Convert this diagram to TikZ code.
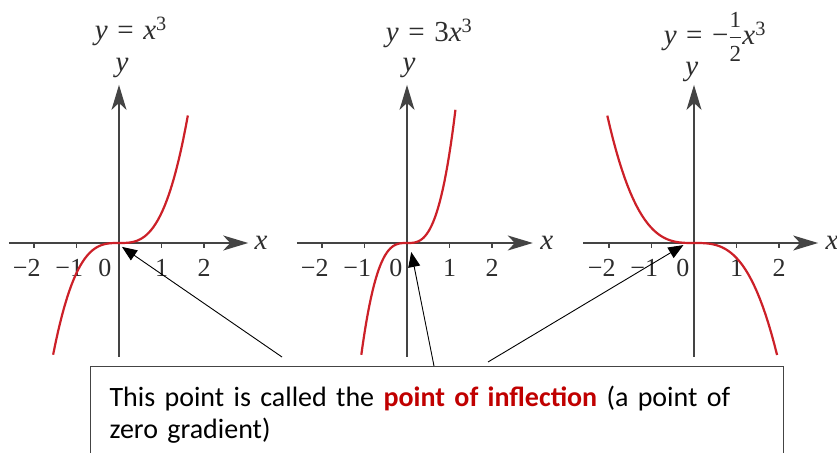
\documentclass[tikz,border=0pt]{standalone}
\usepackage{amsmath}
\usepackage{fontspec}
\setmainfont{Carlito}
\newfontfamily\graphfont{Liberation Serif}
\usetikzlibrary{arrows.meta, positioning}

\definecolor{curvered}{RGB}{204,32,40}
\definecolor{axisgray}{RGB}{68,68,68}
\definecolor{labelgray}{RGB}{45,45,45}
\definecolor{notered}{RGB}{192,0,0}

\newcommand{\halfnum}[1]{\hbox{\fontsize{23}{23}\selectfont #1}}
\newcommand{\eqsp}{\hspace{0.33em}=\hspace{0.33em}}

\tikzset{
	axis/.style={draw=axisgray, line width=1.5pt, -{Stealth[length=25pt, width=15pt, inset=7pt]}},
	tick/.style={draw=axisgray, line width=1.2pt},
	curve/.style={draw=curvered, line width=2.2pt},
	ticklabel/.style={text=labelgray, inner sep=0pt, anchor=base, font=\graphfont\fontsize{26}{26}\selectfont},
	varlabel/.style={text=labelgray, inner sep=0pt, anchor=base, font=\graphfont\itshape\fontsize{29}{29}\selectfont},
	title/.style={text=labelgray, inner sep=0pt, anchor=base, font=\graphfont\fontsize{29}{29}\selectfont},
	pointer/.style={draw=black, line width=0.9pt, -{Triangle[length=15pt, width=12pt]}},
	notebox/.style={draw=axisgray, line width=1.2pt, anchor=north west, align=left, text width=655pt, inner xsep=19pt, inner ysep=19.5pt, font=\fontsize{28}{32}\selectfont}
}

\begin{document}
\begin{tikzpicture}[x=1pt, y=1pt]
	\useasboundingbox (0,0) rectangle (837,452);
	\clip (0,0) rectangle (837,452);
	
	% y = x^3
	\begin{scope}[shift={(119,209)}, x=42.5pt, y=30pt]
		\draw[axis] (-2.59,0) -- (3.04,0);
		\draw[axis] (0,-3.8) -- (0,5.27);
		\node[varlabel] (x1) at (3.34,-0.23) {x};
		\node[varlabel] (y1) at (0.07,5.73) {y};
		\node[title] (t1) at (0.28,6.77) {\textit{y}\eqsp\textit{x}\textsuperscript{3}};
		
		% Ticks and labels
		\draw[tick] (-2,0) -- (-2,-0.17) (-1,0) -- (-1,-0.17) (1,0) -- (1,-0.17) (2,0) -- (2,-0.17);
		\node[ticklabel] (a-m2) at (-2,-1.13) {\llap{−}2};
		\node[ticklabel] (a-m1) at (-1,-1.13) {\llap{−}1};
		\node[ticklabel] (a-0) at (-0.33,-1.13) {0};
		\node[ticklabel] (a-1) at (1,-1.13) {1};
		\node[ticklabel] (a-2) at (2,-1.13) {2};
		
		% Draw the function
		\draw[curve] plot[domain=-1.55:1.62, samples=60] (\x, {(\x)^3});
		\coordinate (p1) at (0.07,-0.13);
	\end{scope}
	
	% y = 3x^3
	\begin{scope}[shift={(407,209)}, x=42.5pt, y=30pt]
		\draw[axis] (-2.59,0) -- (2.96,0);
		\draw[axis] (0,-3.8) -- (0,5.27);
		\node[varlabel] (x2) at (3.29,-0.23) {x};
		\node[varlabel] (y2) at (0.05,5.7) {y};
		\node[title] (t2) at (0.52,6.73) {\textit{y}\eqsp3\textit{x}\textsuperscript{3}};
		
		% Ticks and labels
		\draw[tick] (-2,0) -- (-2,-0.17) (-1,0) -- (-1,-0.17) (1,0) -- (1,-0.17) (2,0) -- (2,-0.17);
		\node[ticklabel] (b-m2) at (-2,-1.13) {\llap{−}2};
		\node[ticklabel] (b-m1) at (-1,-1.13) {\llap{−}1};
		\node[ticklabel] (b-0) at (-0.26,-1.13) {0};
		\node[ticklabel] (b-1) at (1,-1.13) {1};
		\node[ticklabel] (b-2) at (2,-1.13) {2};
		
		% Draw the function
		\draw[curve] plot[domain=-1.075:1.14, samples=60] (\x, {3*(\x)^3});
		\coordinate (p2) at (0.1,-0.3);
	\end{scope}
	
	% y = -1/2 x^3
	\begin{scope}[shift={(694,209)}, x=42.5pt, y=30pt]
		\draw[axis] (-2.61,0) -- (2.92,0);
		\draw[axis] (0,-3.8) -- (0,5.27);
		\node[varlabel] (x3) at (3.25,-0.23) {x};
		\node[varlabel] (y3) at (-0.05,5.57) {y};
		\node[title] (t3) at (0.49,6.63) {\textit{y}\eqsp−$\displaystyle\frac{\halfnum{1}}{\halfnum{2}}$\textit{x}\textsuperscript{3}};
		
		% Ticks and labels
		\draw[tick] (-2,0) -- (-2,-0.17) (-1,0) -- (-1,-0.17) (1,0) -- (1,-0.17) (2,0) -- (2,-0.17);
		\node[ticklabel] (c-m2) at (-2,-1.13) {\llap{−}2};
		\node[ticklabel] (c-m1) at (-1,-1.13) {\llap{−}1};
		\node[ticklabel] (c-0) at (-0.26,-1.13) {0};
		\node[ticklabel] (c-1) at (1,-1.13) {1};
		\node[ticklabel] (c-2) at (2,-1.13) {2};
		
		% Draw the function
		\draw[curve] plot[domain=-2.04:1.955, samples=60] (\x, {-0.5*(\x)^3});
		\coordinate (p3) at (-0.25,-0.07);
	\end{scope}
	
	% Note box and pointers
	\node[notebox] (note) at (90,86) {This point is called the \textcolor{notered}{\textbf{point of inflection}} (a point of zero gradient)};
	\coordinate (s1) at (282,95);
	\coordinate (s2) at (434,86);
	\coordinate (s3) at (488,90);
	\draw[pointer] (s1) -- (p1);
	\draw[pointer] (s2) -- (p2);
	\draw[pointer] (s3) -- (p3);
\end{tikzpicture}
\end{document}
